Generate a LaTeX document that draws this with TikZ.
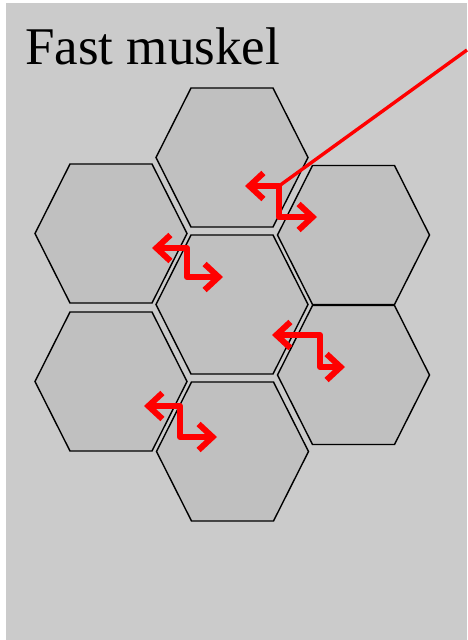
\documentclass[tikz,border=0pt]{standalone}
\usepackage{fontspec}
\setmainfont{Liberation Serif}
\usetikzlibrary{arrows.meta}
\definecolor{musclebg}{RGB}{203,203,203}
\definecolor{cellfill}{RGB}{192,192,192}
\tikzset{
  cell/.style={draw=black,fill=cellfill,line width=1.4pt},
  twist/.style={red,line width=6pt,line cap=round,line join=round,
    {Straight Barb[length=14pt,width=26pt]}-{Straight Barb[length=14pt,width=26pt]}},
  pointer/.style={red,line width=3.4pt}
}
\newcommand{\hexcell}[1]{\draw[cell] (#1) ++(-76,0) -- ++(35,-69.5) -- ++(82,0) -- ++(35,69.5) -- ++(-35,69.5) -- ++(-82,0) -- cycle;}
\begin{document}
\begin{tikzpicture}[x=1pt,y=-1pt]
\useasboundingbox (0,0) rectangle (467,640);
%background
\fill[musclebg] (6,3) rectangle (467,640);

%cell centres
\coordinate (top) at (232,157.5);
\coordinate (lefttop) at (111,233.5);
\coordinate (righttop) at (353.5,235);
\coordinate (mid) at (232,304.5);
\coordinate (leftbot) at (111,381.5);
\coordinate (rightbot) at (353.5,375);
\coordinate (bot) at (232.5,451.5);
\coordinate (tipend) at (467,50);

%cells
\hexcell{top}
\hexcell{lefttop}
\hexcell{righttop}
\hexcell{mid}
\hexcell{leftbot}
\hexcell{rightbot}
\hexcell{bot}

%twists
\draw[twist] (245,186) -| (279,217) -- (317,217);
\draw[twist] (152,248) -| (187,277) -- (223,277);
\draw[twist] (272,335) -| (320,367) -- (345,367);
\draw[twist] (144,406) -| (180,437) -- (217,437);
\coordinate (bend) at (279,186);
\draw[pointer] (bend) -- (tipend);

%text
\node[anchor=base west,inner sep=0pt,font=\fontsize{53}{60}\selectfont] (title) at (25,64) {Fast muskel};
\end{tikzpicture}
\end{document}
